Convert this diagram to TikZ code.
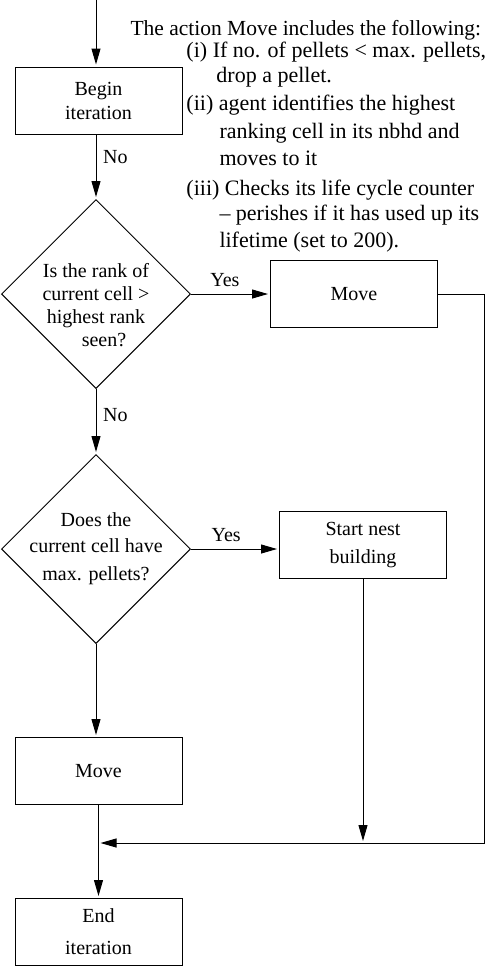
\documentclass[tikz,border=0pt]{standalone}
\usepackage{fontspec}
\setmainfont{Liberation Serif}
\usetikzlibrary{positioning,shapes.geometric,arrows.meta}

\begin{document}
\begin{tikzpicture}[x=0.5pt,y=-0.5pt,->,>={Triangle[length=8pt,width=4.5pt]},shorten >=1pt,auto,
      line width=0.5pt,font=\fontsize{10}{12}\selectfont,
      block/.style={rectangle, draw, align=center, minimum width=83.5pt, minimum height=33.5pt},
      decision/.style={diamond, draw, aspect=1, align=center, minimum size=94.5pt, inner sep=-4pt}]
    \useasboundingbox (0,0) rectangle (486,966);

    \coordinate (start) at (96,0);
    \node[block] (begin) at (98.5,100.5) {Begin\\iteration};
    \node[decision, label={[align=center, yshift=-5.5pt, font=\fontsize{10}{11.5}\selectfont]center:Is the rank of\\current cell >\\highest rank\\\hspace*{8pt}seen?}] (rank) at (96,294) {};
    \node[block] (move1) at (354,294) {Move};
    \node[decision] (pellets) at (96,549) {Does the\\[1pt]current cell have\\[2pt]max. pellets?};
    \node[block] (nest) at (363,545) {Start nest\\[2pt]building};
    \node[block] (move2) at (98.5,771) {Move};
    \node[block] (end) at (98.5,932) {End\\[4pt]iteration};
    \coordinate (merge) at (98.5,843);
    \coordinate (corner) at (484,843);

    % what Move does
    \node[anchor=north west, align=left, inner sep=0pt, font=\fontsize{11}{11}\selectfont] (note) at (130,20)
    {{\fontsize{10.75}{11}\selectfont The action Move includes the following:}\\
     \hspace*{28pt}(i) If no. of pellets < max. pellets,\\[1.5pt]
     \hspace*{43pt}drop a pellet.\\[3pt]
     \hspace*{28pt}(ii) agent identifies the highest\\[3pt]
     \hspace*{44.5pt}ranking cell in its nbhd and\\[2.5pt]
     \hspace*{44.5pt}moves to it\\[4pt]
     \hspace*{28pt}(iii) Checks its life cycle counter\\[1.5pt]
     \hspace*{44.5pt}-- perishes if it has used up its\\[2.5pt]
     \hspace*{44.5pt}lifetime (set to 200).};

    \path
    (start) edge (start |- begin.north)
    (begin.south -| rank) edge node[pos=0.35] {No} (rank)
    (rank) edge node[pos=0.43] {Yes} (move1)
    edge node[pos=0.4] {No} (pellets)
    (pellets.east) edge node[pos=0.4] {Yes} (pellets.east -| nest.west)
    (pellets) edge (pellets |- move2.north)
    (move2) edge (end)
    (nest) edge (nest |- merge);
    \draw (move1.east) -| (corner) -- (merge);
\end{tikzpicture}
\end{document}
